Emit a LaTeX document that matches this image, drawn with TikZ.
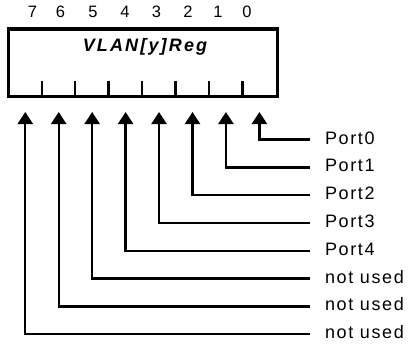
\documentclass[tikz,border=0pt]{standalone}
\usepackage{fontspec}
\setmainfont{Liberation Sans}
\newfontfamily\lblfont[LetterSpace=9]{Liberation Sans}
\newfontfamily\ttlfont[LetterSpace=12]{Liberation Sans}
\usetikzlibrary{arrows.meta,calc}
\begin{document}
\begin{tikzpicture}[x=1pt,y=-1pt,
  regbox/.style={draw,line width=3.4pt,inner sep=0pt,outer sep=0pt},
  tickline/.style={line width=2.4pt},
  arr/.style={line width=2.4pt,-{Triangle[width=15pt,length=12pt]}},
  bitnum/.style={anchor=base,inner sep=0pt,font=\fontsize{16.5}{19}\selectfont},
  portlbl/.style={anchor=west,inner sep=0pt,outer xsep=15pt,text height=9pt,text depth=0pt,font=\lblfont\fontsize{18}{21}\selectfont},
  ttl/.style={anchor=base,inner sep=0pt,font=\ttlfont\bfseries\itshape\fontsize{18}{21}\selectfont}]
\useasboundingbox (0,0) rectangle (411,345);
\node[regbox,minimum width=269.2pt,minimum height=67.7pt,anchor=north west] (reg) at (8.3,29) {};
\node[ttl] (title) at (145,52) {VLAN[y]Reg};
\foreach \i in {1,...,7} {
  \draw[tickline] ($(reg.south west)+(33.45*\i,0)$) -- ++(0,-16);
}
\foreach \k/\xx in {7/32.5,6/60.5,5/93,4/125,3/156.5,2/188,1/218,0/247} {
  \node[bitnum] (b\k) at (\xx,18) {\k};
}
\foreach \k/\txt in {0/Port0,1/Port1,2/Port2,3/Port3,4/Port4,5/not used,6/not used,7/not used} {
  \coordinate (t\k) at (259.4-33.45*\k,112);
  \node[portlbl] (p\k) at (310,139.5+27.8*\k) {\txt};
  \draw[arr] (p\k.west) -| (t\k);
}
\end{tikzpicture}
\end{document}
